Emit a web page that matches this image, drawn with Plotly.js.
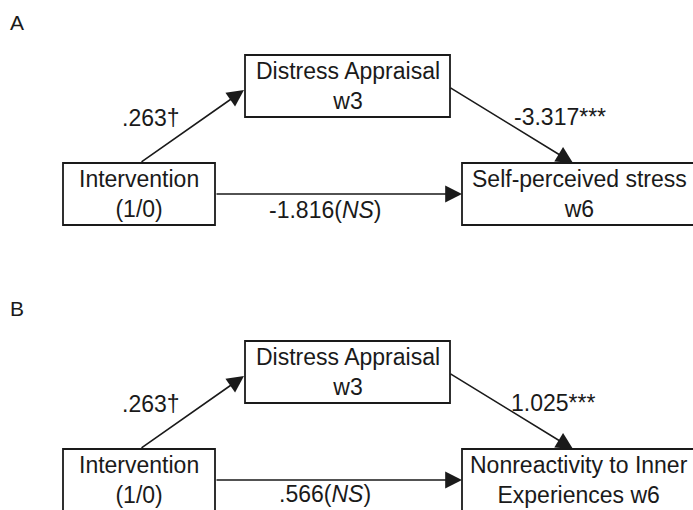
<!DOCTYPE html>
<html>
<head>
<meta charset="utf-8">
<script src="https://cdn.plot.ly/plotly-3.0.1.min.js"></script>
<style>html,body{margin:0;padding:0;background:#fff;}#chart{width:693px;height:510px;}</style>
</head>
<body>
<div id="chart"></div>
<script>
// ---- data ----
const panels = ['A', 'B'];
const predictorLabels = ['Intervention<br>(1/0)', 'Intervention<br>(1/0)'];
const mediatorLabels = ['Distress Appraisal<br>w3', 'Distress Appraisal<br>w3'];
const outcomeLabels = ['Self-perceived stress<br>w6', 'Nonreactivity to Inner<br>Experiences w6'];
const pathACoef = [0.263, 0.263];
const pathASig = ['†', '†'];
const pathBCoef = [-3.317, 1.025];
const pathBSig = ['***', '***'];
const pathCCoef = [-1.816, 0.566];
const pathCSig = ['(<i>NS</i>)', '(<i>NS</i>)'];

// ---- layout geometry (pixels) ----
const G = {
  panelOffset: 286,
  panelLabel: {x: 17, y: 22},
  pred: {x0: 63, x1: 215, y0: 163, y1: 225},
  med: {x0: 245, x1: 450, y0: 55, y1: 117},
  out: {x0: 462, x1: 698, y0: 163, y1: 225},
  arrowA: {ax: 140, ay: 163, x: 244, y: 90},
  arrowB: {ax: 449, ay: 87, x: 573, y: 163},
  arrowC: {ax: 215, ay: 194, x: 462, y: 194},
  labA: {x: 151, y: 118},
  labB: {x: 560, y: 117},
  labC: {x: 325, y: 210}
};
const ink = '#1a1a1a';
const fontFamily = 'Liberation Sans, Arial, sans-serif';

function fmt(v) {
  return v.toFixed(3).replace(/^(-?)0\./, '$1.');
}

const shapes = [];
const annotations = [];

panels.forEach((p, i) => {
  const dy = i * G.panelOffset;
  const box = (b) => shapes.push({
    type: 'rect', xref: 'x', yref: 'y',
    x0: b.x0, x1: b.x1, y0: b.y0 + dy, y1: b.y1 + dy,
    line: {color: ink, width: 1.8}, fillcolor: 'rgba(0,0,0,0)'
  });
  box(G.pred); box(G.med); box(G.out);

  const txt = (text, x, y, size) => annotations.push({
    text: text, x: x, y: y, xref: 'x', yref: 'y', showarrow: false,
    xanchor: 'center', yanchor: 'middle',
    font: {family: fontFamily, size: size || 23, color: ink}
  });
  const centerX = (b) => (b.x0 + b.x1) / 2;
  txt(predictorLabels[i], centerX(G.pred), (G.pred.y0 + G.pred.y1) / 2 + dy);
  txt(mediatorLabels[i], centerX(G.med), (G.med.y0 + G.med.y1) / 2 + dy);
  txt(outcomeLabels[i], 579, (G.out.y0 + G.out.y1) / 2 + dy);

  txt(p, G.panelLabel.x, G.panelLabel.y + dy, 21);

  const arrow = (a) => annotations.push({
    text: '', xref: 'x', yref: 'y', axref: 'x', ayref: 'y',
    x: a.x, y: a.y + dy, ax: a.ax, ay: a.ay + dy,
    showarrow: true, arrowhead: 2, arrowsize: 2.1, arrowwidth: 1.6,
    arrowcolor: ink, standoff: 0, startstandoff: 0
  });
  arrow(G.arrowA); arrow(G.arrowB); arrow(G.arrowC);

  txt(fmt(pathACoef[i]) + pathASig[i], G.labA.x, G.labA.y + dy);
  txt(fmt(pathBCoef[i]) + pathBSig[i], G.labB.x - (i ? 7 : 0), G.labB.y + dy);
  txt(fmt(pathCCoef[i]) + pathCSig[i], G.labC.x, G.labC.y + dy - (i ? 2 : 0));
});

const layout = {
  width: 693, height: 510,
  margin: {l: 0, r: 0, t: 0, b: 0, pad: 0},
  paper_bgcolor: '#ffffff', plot_bgcolor: '#ffffff',
  xaxis: {range: [0, 693], visible: false, fixedrange: true},
  yaxis: {range: [510, 0], visible: false, fixedrange: true},
  showlegend: false,
  shapes: shapes,
  annotations: annotations
};

Plotly.newPlot('chart', [], layout, {staticPlot: true, displayModeBar: false});
</script>
</body>
</html>
